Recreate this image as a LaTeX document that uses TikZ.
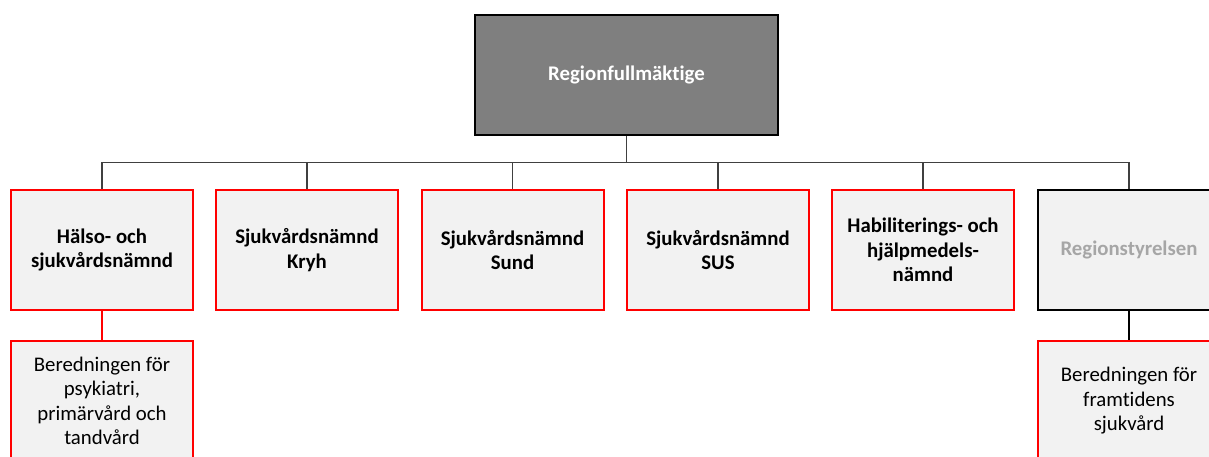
\documentclass[tikz,border=0pt]{standalone}
\usepackage{fontspec}
\setmainfont[RawFeature=-liga]{Carlito}
\definecolor{boxfill}{HTML}{F2F2F2}
\definecolor{topfill}{HTML}{7F7F7F}
\definecolor{redline}{HTML}{FF0000}
\definecolor{paletext}{HTML}{A6A6A6}
\begin{document}
\begin{tikzpicture}[x=1pt,y=-1pt,
  unit/.style={rectangle, minimum width=182pt, minimum height=120pt, inner sep=2pt,
    align=center, fill=boxfill, font=\fontsize{20.8}{24.5}\selectfont},
  redbox/.style={unit, draw=redline, line width=2pt},
  blackbox/.style={unit, draw=black, line width=1.8pt},
  headbox/.style={rectangle, minimum width=303pt, minimum height=120pt, fill=topfill,
    draw=black, line width=1.6pt, text=white, font=\fontsize{20.8}{24.5}\selectfont\bfseries},
  bold/.style={font=\fontsize{20.8}{24.5}\selectfont\bfseries},
  conn/.style={draw=black!75, line width=1.1pt},
  redconn/.style={draw=redline, line width=1.1pt}]
\useasboundingbox (0,0) rectangle (1209,457);
\clip (0,0) rectangle (1209,457);

\node[headbox] (top) at (626.5,75) {Regionfullmäktige};

\node[redbox,bold] (b1) at (102,250) {Hälso- och\\sjukvårdsnämnd};
\node[redbox,bold] (b2) at (307,250) {Sjukvårdsnämnd\\Kryh};
\node[redbox,bold] (b3) at (512.5,250) {Sjukvårdsnämnd\\Sund};
\node[redbox,bold] (b4) at (718,250) {Sjukvårdsnämnd\\SUS};
\node[redbox,bold] (b5) at (923,250) {Habiliterings- och\\hjälpmedels-\\nämnd};
\node[blackbox,bold,text=paletext] (b6) at (1129,250) {Regionstyrelsen};

\node[redbox] (c1) at (102,401) {Beredningen för\\psykiatri,\\primärvård och\\tandvård};
\node[redbox] (c6) at (1129,401) {Beredningen för\\framtidens\\sjukvård};

\coordinate (bus) at (626.5,162.5);
\draw[conn] (top.south) -- (bus);
\draw[conn] (b1.north |- bus) -- (b6.north |- bus);
\foreach \b in {b1,b2,b3,b4,b5,b6} {
  \draw[conn] (\b.north |- bus) -- (\b.north);
}
\draw[redconn] (b1.south) -- (c1.north);
\draw[conn,draw=black] (b6.south) -- (c6.north);
\end{tikzpicture}
\end{document}
